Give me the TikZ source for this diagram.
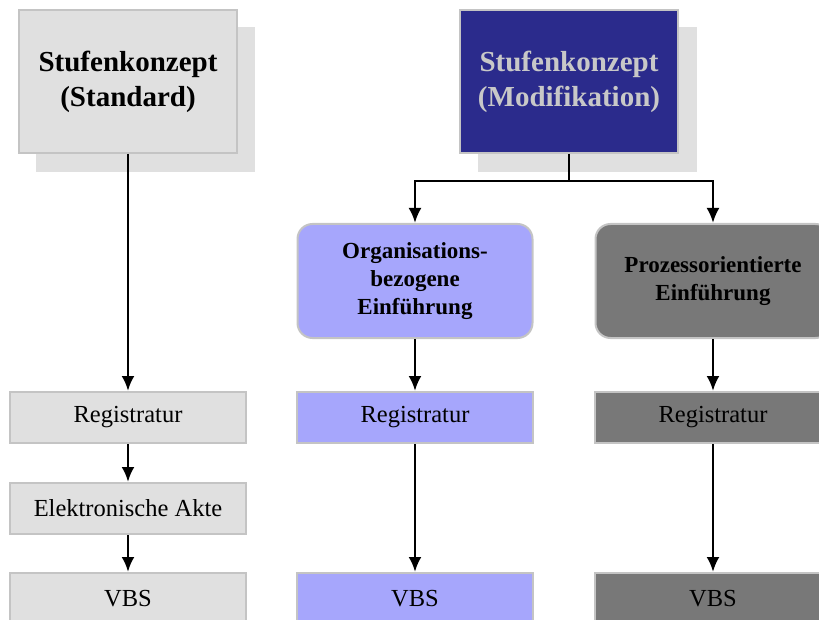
\documentclass[tikz,border=0pt]{standalone}
\usepackage{fontspec}
\setmainfont{Liberation Serif}
\usetikzlibrary{arrows.meta}
\definecolor{SKLine}{HTML}{C4C4C4}
\definecolor{SKGray}{HTML}{E0E0E0}
\definecolor{SKNavy}{HTML}{2B2B8C}
\definecolor{SKNavyText}{HTML}{C8C8C8}
\definecolor{SKLila}{HTML}{A6A6FC}
\definecolor{SKDark}{HTML}{787878}
\tikzset{
  kopf/.style={draw=SKLine,line width=2pt,minimum width=218pt,minimum height=143pt,
    align=center,font=\bfseries\fontsize{29}{35}\selectfont},
  weg/.style={draw=SKLine,line width=2pt,rounded corners=15pt,minimum width=235pt,
    minimum height=114pt,align=center,font=\bfseries\fontsize{23}{28}\selectfont},
  stufe/.style={draw=SKLine,line width=2pt,minimum width=236pt,minimum height=51pt,
    font=\fontsize{24.5}{26}\selectfont},
  pfeil/.style={line width=2.6pt,-{Latex[length=15pt,width=13pt]}}
}
\begin{document}
\begin{tikzpicture}[x=1pt,y=-1pt]
\path[use as bounding box] (0,0) rectangle (819,620);
% Schatten
\fill[SKGray] (36,27) rectangle (255,172);
\fill[SKGray] (478,27) rectangle (697,172);
% Kopfknoten
\node[kopf,fill=SKGray] (std) at (128,81.5) {Stufenkonzept\\(Standard)};
\node[kopf,fill=SKNavy,text=SKNavyText] (mod) at (569,81.5) {Stufenkonzept\\(Modifikation)};
\node[weg,fill=SKLila] (org) at (415,281) {Organisations-\\bezogene\\Einführung};
\node[weg,fill=SKDark] (proz) at (713,281) {Prozessorientierte\\Einführung};
% linke Spalte
\node[stufe,fill=SKGray] (regA) at (128,417.5) {Registratur};
\node[stufe,fill=SKGray] (akte) at (128,508.5) {Elektronische Akte};
\node[stufe,fill=SKGray] (vbsA) at (128,598.5) {VBS};
% mittlere Spalte
\node[stufe,fill=SKLila] (regB) at (415,417.5) {Registratur};
\node[stufe,fill=SKLila] (vbsB) at (415,598.5) {VBS};
% rechte Spalte
\node[stufe,fill=SKDark] (regC) at (713,417.5) {Registratur};
\node[stufe,fill=SKDark] (vbsC) at (713,598.5) {VBS};
% Pfeile
\draw[pfeil] (std) -- (regA);
\draw[pfeil] (regA) -- (akte);
\draw[pfeil] (akte) -- (vbsA);
\coordinate (teil) at (569,181);
\draw[line width=2.6pt] (mod.south) -- (teil);
\draw[pfeil] (teil) -| (org.north);
\draw[pfeil] (teil) -| (proz.north);
\draw[pfeil] (org) -- (regB);
\draw[pfeil] (regB) -- (vbsB);
\draw[pfeil] (proz) -- (regC);
\draw[pfeil] (regC) -- (vbsC);
\end{tikzpicture}
\end{document}
